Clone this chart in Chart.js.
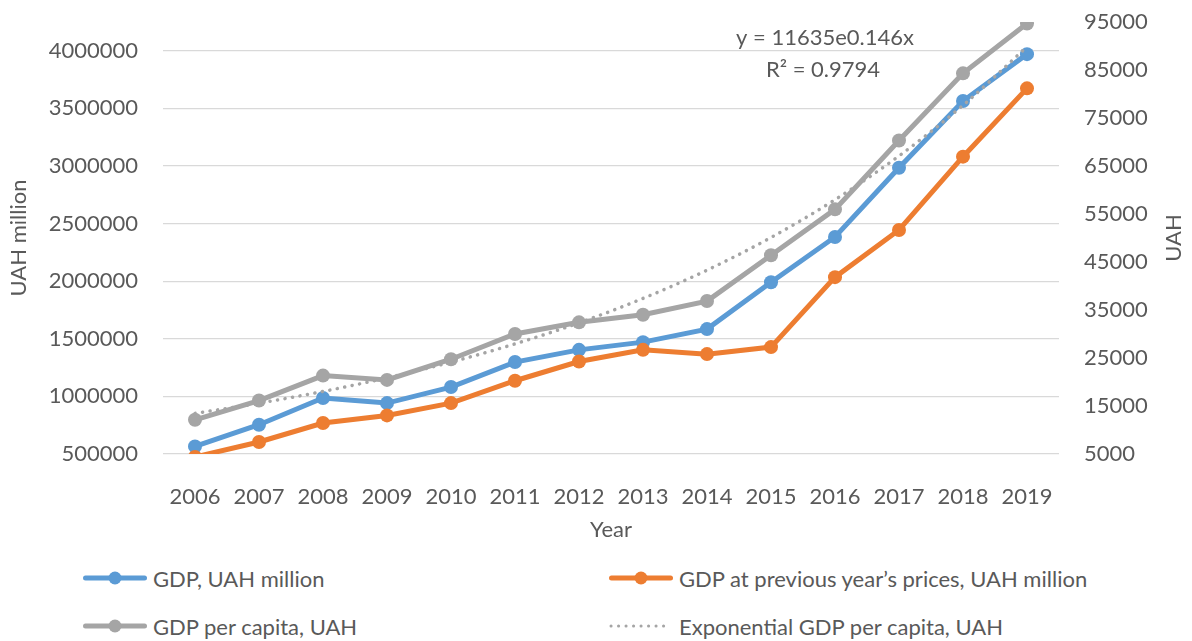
<!DOCTYPE html>
<html>
<head>
<meta charset="utf-8">
<script src="https://cdn.jsdelivr.net/npm/chart.js@4.4.1/dist/chart.umd.min.js"></script>
<style>
  body { margin: 0; background: #fff; }
  #wrap { position: relative; width: 1192px; height: 641px; font-family: Lato, sans-serif; color: #595959; }
  #chartBox { position: absolute; left: 0; top: 0; width: 1192px; height: 545px; }
  .item { position: absolute; display: flex; align-items: center; font-size: 22px; white-space: nowrap; }
  .item svg { margin-right: 6px; }
</style>
</head>
<body>
<div id="wrap">
  <div id="chartBox"><canvas id="chart"></canvas></div>
  <div id="legend"></div>
</div>
<script>
// Data
const years = ['2006', '2007', '2008', '2009', '2010', '2011', '2012', '2013', '2014', '2015', '2016', '2017', '2018', '2019'];
const gdp = [566000, 754000, 986000, 942000, 1081000, 1298000, 1404000, 1471000, 1584000, 1991000, 2384000, 2985000, 3564000, 3971000];
const gdpPrevPrices = [474000, 604000, 769000, 835000, 942000, 1136000, 1303000, 1404000, 1367000, 1428000, 2035000, 2445000, 3081000, 3674000];
const gdpPerCapita = [12130, 16140, 21330, 20440, 24740, 30000, 32430, 34010, 36860, 46420, 55970, 70310, 84300, 94690];
const trendPerCapita = [13460, 15580, 18030, 20870, 24140, 27940, 32330, 37420, 43300, 50110, 57980, 67100, 77650, 89850];

// Tick labels
const leftTicks = [500000, 1000000, 1500000, 2000000, 2500000, 3000000, 3500000, 4000000];
const rightTicks = [5000, 15000, 25000, 35000, 45000, 55000, 65000, 75000, 85000, 95000];

const textColor = '#595959';
const fontName = "Lato, sans-serif";

const leftMin = 500000;
const leftMax = 4250000;
const rightMin = 5000;
const rightMax = 95000;

Chart.defaults.font.family = fontName;
Chart.defaults.font.size = 22;
Chart.defaults.color = textColor;

// Draws the trend equation and the right-hand axis title
const extraText = {
    id: 'extraText',
    afterDraw(chart) {
        const ctx = chart.ctx;
        ctx.save();
        ctx.fillStyle = textColor;
        ctx.font = '22px ' + fontName;
        ctx.textAlign = 'center';
        ctx.textBaseline = 'middle';
        ctx.fillText('y = 11635e0.146x', 825, 38);
        ctx.fillText('R\u00b2 = 0.9794', 823, 70);

        ctx.translate(1174, (chart.chartArea.top + chart.chartArea.bottom) / 2);
        ctx.rotate(-Math.PI / 2);
        ctx.fillText('UAH', 0, 0);
        ctx.restore();
    }
};

function lineSet(label, data, color, axis, order) {
    return {
        label: label,
        data: data,
        yAxisID: axis,
        borderColor: color,
        backgroundColor: color,
        borderWidth: 5,
        pointRadius: 7,
        pointHoverRadius: 7,
        pointBorderWidth: 0,
        tension: 0,
        order: order
    };
}

const chart = new Chart(document.getElementById('chart'), {
    type: 'line',
    data: {
        labels: years,
        datasets: [
            lineSet('GDP, UAH million', gdp, '#5b9bd5', 'y', 4),
            lineSet('GDP at previous year\u2019s prices, UAH million', gdpPrevPrices, '#ed7d31', 'y', 3),
            lineSet('GDP per capita, UAH', gdpPerCapita, '#a5a5a5', 'y1', 2),
            {
                label: 'Exponential GDP per capita, UAH',
                data: trendPerCapita,
                yAxisID: 'y1',
                borderColor: '#a5a5a5',
                borderWidth: 3.5,
                borderDash: [0.1, 7.5],
                borderCapStyle: 'round',
                pointRadius: 0,
                cubicInterpolationMode: 'monotone',
                order: 1
            }
        ]
    },
    options: {
        responsive: true,
        maintainAspectRatio: false,
        animation: false,
        layout: { padding: { top: 22, left: 0, right: 0, bottom: 0 } },
        plugins: {
            legend: { display: false },
            tooltip: { enabled: false }
        },
        scales: {
            x: {
                offset: true,
                grid: { display: false },
                border: { display: false },
                ticks: { padding: 22, maxRotation: 0, autoSkip: false },
                title: { display: true, text: 'Year', padding: { top: 2, bottom: 2 } },
                afterFit(scale) { scale.height = 91; }
            },
            y: {
                position: 'left',
                min: leftMin,
                max: leftMax,
                grid: { color: '#d9d9d9', lineWidth: 1.3, drawTicks: true, tickLength: 23, tickColor: 'rgba(0,0,0,0)' },
                border: { display: false },
                ticks: { padding: 2, callback: v => String(v) },
                afterBuildTicks(scale) {
                    scale.ticks = leftTicks.map(v => ({ value: v }));
                },
                title: { display: true, text: 'UAH million', padding: { top: 6, bottom: 6 } },
                afterFit(scale) { scale.width = 163; }
            },
            y1: {
                position: 'right',
                min: rightMin,
                max: rightMax,
                grid: { display: true, drawOnChartArea: false, color: 'rgba(0,0,0,0)', drawTicks: true, tickLength: 23, tickColor: 'rgba(0,0,0,0)' },
                border: { display: false },
                ticks: { padding: 2, callback: v => String(v) },
                afterBuildTicks(scale) {
                    scale.ticks = rightTicks.map(v => ({ value: v }));
                },
                afterFit(scale) { scale.width = 133; }
            }
        }
    },
    plugins: [extraText]
});

// HTML legend, two columns
const legendItems = [
    { text: 'GDP, UAH million', color: '#5b9bd5', x: 83, y: 578, dotted: false },
    { text: 'GDP at previous year\u2019s prices, UAH million', color: '#ed7d31', x: 609, y: 578, dotted: false },
    { text: 'GDP per capita, UAH', color: '#a5a5a5', x: 83, y: 626, dotted: false },
    { text: 'Exponential GDP per capita, UAH', color: '#a5a5a5', x: 609, y: 626, dotted: true }
];

let legendHTML = '';
legendItems.forEach(item => {
    let marker;
    if (item.dotted) {
        marker = `<svg width="64" height="16"><line x1="2" y1="8" x2="62" y2="8" stroke="${item.color}" stroke-width="3" stroke-linecap="round" stroke-dasharray="0.1 7.4"/></svg>`;
    } else {
        marker = `<svg width="64" height="16"><line x1="2.5" y1="8" x2="61.5" y2="8" stroke="${item.color}" stroke-width="5" stroke-linecap="round"/><circle cx="32" cy="8" r="6.5" fill="${item.color}"/></svg>`;
    }
    legendHTML += `<div class="item" style="left:${item.x}px; top:${item.y - 16}px; height:32px;">${marker}<span>${item.text}</span></div>`;
});
document.getElementById('legend').innerHTML = legendHTML;
</script>
</body>
</html>
